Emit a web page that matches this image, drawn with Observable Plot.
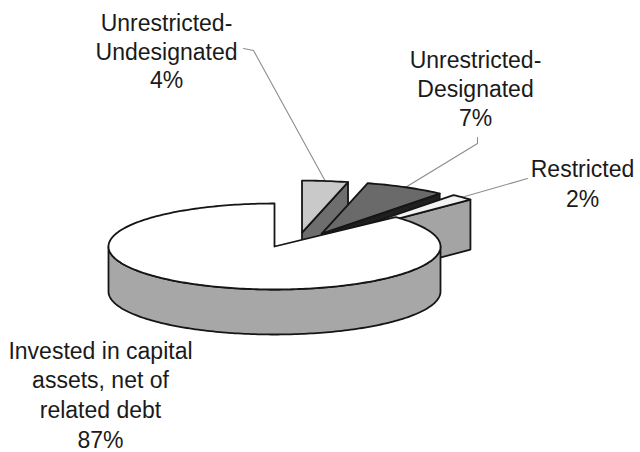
<!DOCTYPE html>
<html><head><meta charset="utf-8">
<script src="https://cdn.jsdelivr.net/npm/d3@7"></script>
<script src="https://cdn.jsdelivr.net/npm/@observablehq/plot@0.6"></script>
<style>body{margin:0;background:#fff;} #chart svg{display:block;}</style>
</head><body><div id="chart"></div>
<script>
// ---- data ----
const categories = ["Unrestricted-Undesignated", "Unrestricted-Designated", "Restricted", "Invested in capital assets, net of related debt"];
const values = [4, 7, 2, 87];
const labelLines = [["Unrestricted-", "Undesignated"], ["Unrestricted-", "Designated"], ["Restricted"], ["Invested in capital", "assets, net of", "related debt"]];

// ---- layout / style ----
const W = 640, H = 452;
const mainGeo = {cx: 274, cy: 246, rx: 166, ry: 43, depth: 45};
const smallGeo = {rx: 185, ry: 52, depth: 50, shiftX: 20, shiftY: -4, ex: 60, ey: 10};
const topFill = ["#c9c9c9", "#6a6a6a", "#f3f3f3", "#ffffff"];
const sideFill = ["#6e6e6e", "#1f1f1f", "#a4a4a4", "#a7a7a7"];
const labelPos = [
  {x: 166, y: 10, lh: 1.25, lead: [[243, 48], [253, 50]]},
  {x: 475, y: 47, lh: 1.26, lead: [[477, 137], [477, 143]]},
  {x: 582, y: 155, lh: 1.31, lead: [[527, 178]]},
  {x: 100, y: 337, lh: 1.29, lead: null}
];

const total = d3.sum(values);
const maxV = d3.max(values);
let acc = 0;
const slices = values.map((v, i) => {
  const a0 = acc / total * 2 * Math.PI;
  acc += v;
  const a1 = acc / total * 2 * Math.PI;
  const mid = (a0 + a1) / 2;
  const exploded = v !== maxV;
  const g = exploded ? {
    cx: mainGeo.cx + smallGeo.shiftX + smallGeo.ex * Math.sin(mid),
    cy: mainGeo.cy + smallGeo.shiftY - smallGeo.ey * Math.cos(mid),
    rx: smallGeo.rx, ry: smallGeo.ry, depth: smallGeo.depth
  } : mainGeo;
  return {i, v, a0, a1, mid, exploded, g};
});

const pt = (g, a, dz = 0) => ({x: g.cx + g.rx * Math.sin(a), y: g.cy - g.ry * Math.cos(a) + dz});
const arc = (g, s, e, dz = 0) => {
  const n = Math.max(2, Math.ceil(Math.abs(e - s) / 0.02));
  return d3.range(n + 1).map(k => pt(g, s + (e - s) * k / n, dz));
};

function faces(s) {
  const g = s.g, out = [];
  const c = {x: g.cx, y: g.cy}, cb = {x: g.cx, y: g.cy + g.depth};
  // outer wall (front half: angles pi/2..3pi/2)
  const ws = Math.max(s.a0, Math.PI / 2), we = Math.min(s.a1, 3 * Math.PI / 2);
  if (we > ws) {
    const pts = arc(g, ws, we).concat(arc(g, we, ws, g.depth));
    pts.push(pts[0]);
    out.push({pts, fill: sideFill[s.i]});
  }
  // cut faces
  if (Math.sin(s.a0) < -1e-6) {
    const r = pt(g, s.a0), rb = pt(g, s.a0, g.depth);
    out.push({pts: [c, r, rb, cb, c], fill: sideFill[s.i]});
  }
  if (Math.sin(s.a1) > 1e-6) {
    const r = pt(g, s.a1), rb = pt(g, s.a1, g.depth);
    out.push({pts: [c, r, rb, cb, c], fill: sideFill[s.i]});
  }
  // top
  const top = [c].concat(arc(g, s.a0, s.a1)).concat([c]);
  out.push({pts: top, fill: topFill[s.i]});
  return out;
}

// painter order: exploded (back) slices first, by depth, then the main slice
const order = slices.slice().sort((a, b) => (a.exploded === b.exploded) ? a.g.cy - b.g.cy : (a.exploded ? -1 : 1));
const faceMarks = order.flatMap(s => faces(s)).map(f =>
  Plot.line(f.pts, {x: "x", y: "y", fill: f.fill, stroke: "#151515", strokeWidth: 1.8, strokeLinejoin: "round"})
);

// leader lines
const leaderMarks = slices.filter(s => labelPos[s.i].lead).map(s => {
  const p = pt(s.g, s.mid);
  const pts = labelPos[s.i].lead.map(([x, y]) => ({x, y})).concat([p]);
  return Plot.line(pts, {x: "x", y: "y", stroke: "#8c8c8c", strokeWidth: 1.1});
});

const textMarks = slices.map(s => Plot.text([{
  x: labelPos[s.i].x, y: labelPos[s.i].y,
  text: labelLines[s.i].concat([s.v + "%"]).join("\n")
}], {x: "x", y: "y", text: "text", fontSize: 23, fontFamily: "Liberation Sans, Arial, sans-serif",
  lineAnchor: "top", lineHeight: labelPos[s.i].lh, textAnchor: "middle", fill: "#1a1a1a"}));

const chart = Plot.plot({
  width: W, height: H, margin: 0,
  x: {domain: [0, W], axis: null},
  y: {domain: [H, 0], axis: null},
  marks: [
    ...leaderMarks,
    ...faceMarks,
    ...textMarks
  ]
});
document.getElementById("chart").appendChild(chart);
</script>
</body></html>
